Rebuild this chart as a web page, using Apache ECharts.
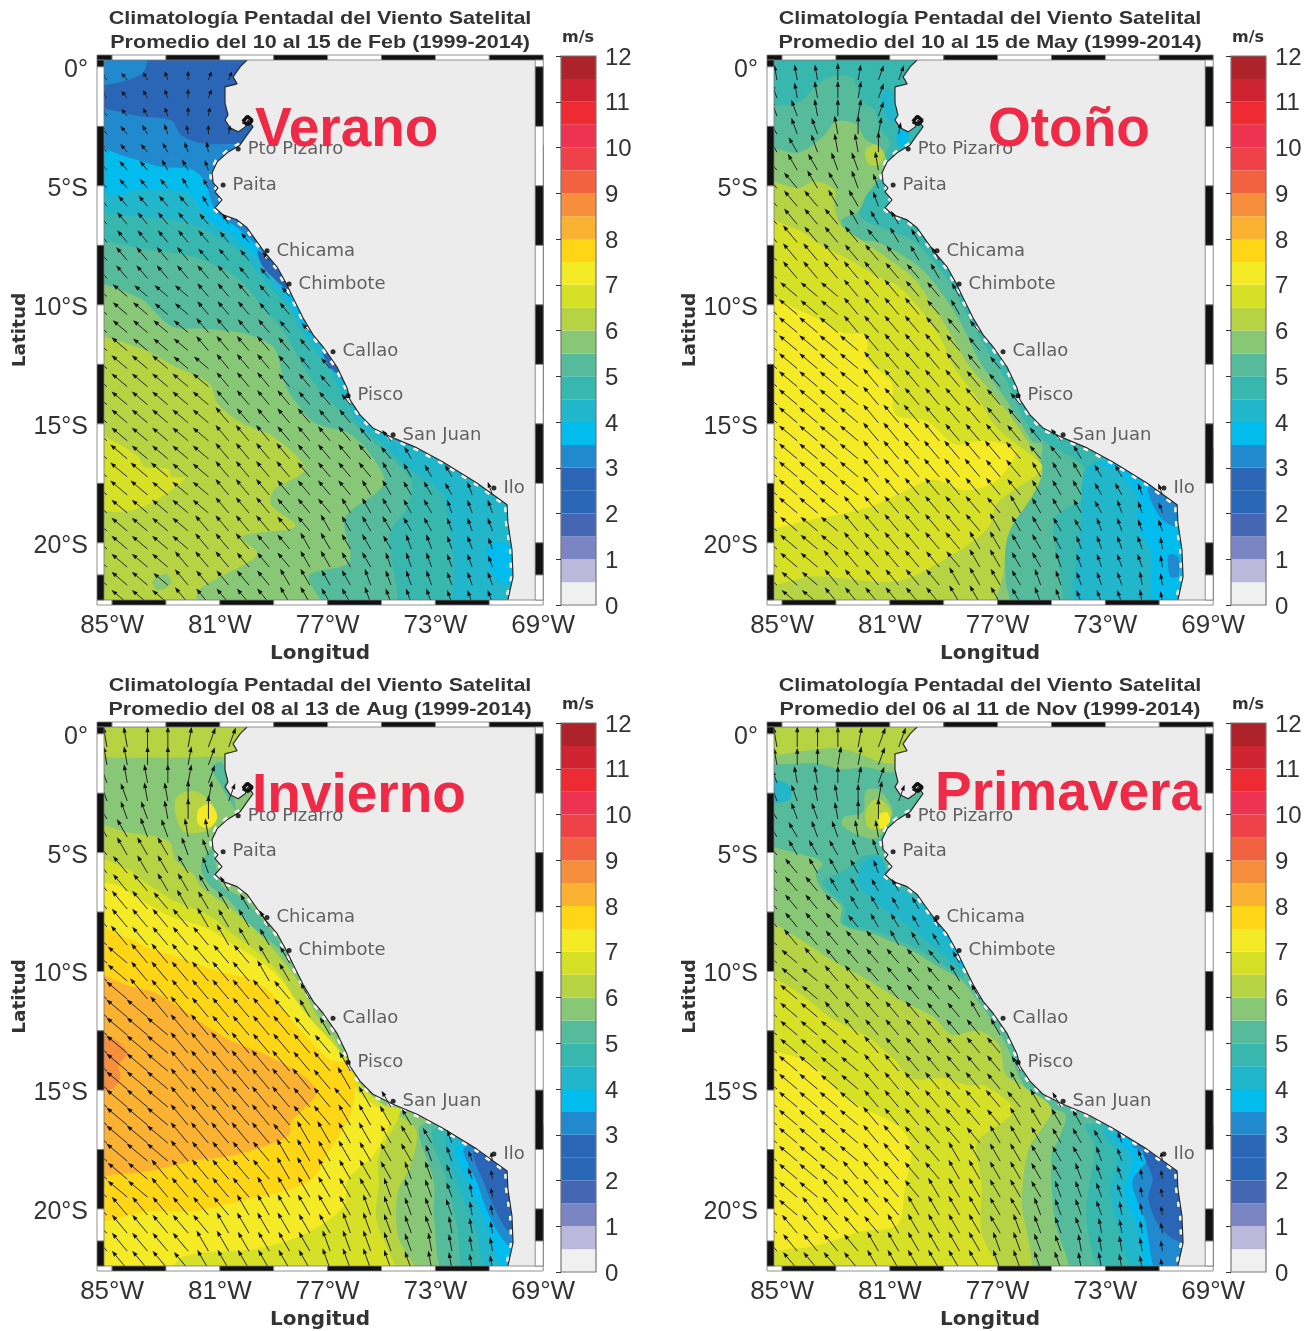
<!DOCTYPE html>
<html><head><meta charset="utf-8">
<style>html,body{margin:0;padding:0;background:#fff}#c{width:1315px;height:1331px}</style>
<script src="https://cdn.jsdelivr.net/npm/echarts@6/dist/echarts.min.js"></script>
</head><body><div id="c"></div>
<script>
// colour scale: one colour per 0.5 m/s band, from 0 to 12
const bandColors=['#f0f0f0','#bcb8dc','#7b85c3','#4566b3','#2a67b7','#2b65b5','#2189cd','#03bcee','#22b6ca','#38b7ae','#56bb9a','#88c776','#b6d344','#d5e027','#f4ea26','#ffd616','#fbb131','#f68e3c','#f26240','#ee4148','#ee3252','#ee2a33','#ce2330','#ad2329'];
const lonTicks=[-85,-81,-77,-73,-69];
const latTicks=[0,-5,-10,-15,-20];
const frameLonEdges=[-85.56,-85,-83,-81,-79,-77,-75,-73,-71,-69];
const frameLatEdges=[0.29,0,-2.5,-5,-7.5,-10,-12.5,-15,-17.5,-20,-21.35,-22.4];
const cities=[['Pto Pizarro',-80.32,-3.45],['Paita',-80.88,-4.96],['Chicama',-79.25,-7.73],['Chimbote',-78.43,-9.12],['Callao',-76.8,-11.97],['Pisco',-76.24,-13.82],['San Juan',-74.57,-15.46],['Ilo',-70.83,-17.69]];
const coast=[[-79.99,0.29],[-80.25,0],[-80.51,-.42],[-80.36,-.71],[-80.81,-.84],[-80.81,-1.51],[-80.7,-2.02],[-80.81,-2.23],[-80.62,-2.56],[-80.32,-2.73],[-80.06,-2.52],[-79.95,-2.23],[-79.77,-2.52],[-79.99,-2.86],[-80.25,-3.28],[-80.73,-3.61],[-81.1,-3.99],[-81.29,-4.45],[-81.25,-4.87],[-81.07,-5.08],[-81.18,-5.25],[-80.92,-5.59],[-81.18,-5.92],[-80.88,-6.22],[-80.36,-6.43],[-79.99,-6.76],[-79.62,-7.35],[-79.32,-7.82],[-78.88,-8.4],[-78.51,-9.16],[-78.28,-9.71],[-77.91,-10.55],[-77.54,-11.26],[-77.17,-11.76],[-76.65,-12.61],[-76.28,-13.49],[-76.17,-13.99],[-75.8,-14.62],[-75.32,-15.17],[-74.57,-15.59],[-73.68,-16.01],[-72.72,-16.6],[-71.46,-17.48],[-70.34,-18.4],[-70.31,-19.16],[-70.16,-20.29],[-70.12,-21.43],[-70.31,-22.39]];
const island=[[-80.15,-2.3],[-79.98,-2.08],[-79.8,-2.25],[-79.95,-2.42],[-80.15,-2.3]];

// wind-arrow tails: rows and columns of the satellite grid
const arrowLat0=-.55,arrowLatStep=.758,arrowLon0=-85.19,arrowLonStep=.753;
// direction code per arrow: degrees west of north = (code-2)*10
const febDir=["6654200","665420","665421","6654321","666543","666554","666655","666665","6666665","66666666","666666666","666666666","7777766666","7777766666","77777666666","77777666666","777777666666","777777666666","7777776666666","7777776666666","777777666666666","7777776666666665","777777666666665555","77777766666665555544","77777766666655555444","77777666666555555444","77777666665555544444","77776666665555444444","77776666655554444444","77776666655554444444"];
const mayDir=["3332100","433210","443210","5443211","554332","655443","665544","666554","6666555","66666655","766666655","766666665","7777666665","7777666665","77776666666","77777666666","777776666666","777776666666","7777766666666","7777766666666","777776666666666","7777766666666665","777776666666655555","77777666666665555544","77776666666655555444","77776666666555554444","77776666665555544443","77766666665555444443","77766666655554444433","77766666655554444433"];
const augDir=["3322100","332210","433210","4433210","544322","554433","655544","665554","6665555","66665555","666665555","766666555","7766666655","7766666655","77666666665","77766666665","777766666665","777766666666","7777666666665","7777666666665","777766666666655","7777666666665555","777766666655555554","77776666655555554443","77766666655555544443","77766666555555444433","76666665555554444433","76666655555544444333","66666555555444443333","66666555555444443333"];
const novDir=["3222100","322110","433210","4433210","544322","554433","655544","665554","6665555","66665555","666665555","766666555","7766666665","7776666665","77766666665","77766666665","777766666665","777776666666","7777766666665","7777766666665","777776666666655","7777766666665555","777776666665555554","77777666655555554443","77776666655555544433","77766666555555444433","77666665555554444333","76666655555544443333","66666555555444433333","66666555555444433333"];

// filled speed bands, painted in this order: [speed band lower bound, outline as lon/lat]
const all=[[-86,1],[-69,1],[-69,-23],[-86,-23]];
const febBands=[[2.5,all],
[3,[[-86,1],[-83.8,1],[-83.9,-.3],[-86,-.7]]],
[3,[[-86,-2],[-83.8,-2.1],[-82.8,-2.25],[-82.4,-2.9],[-81.4,-3.25],[-69,-3.25],[-69,-23],[-86,-23]]],
[3.5,[[-86,-3.5],[-84.4,-3.8],[-83.2,-4.2],[-82.05,-4.3],[-81.55,-4.8],[-81.3,-5.7],[-81.05,-6.2],[-80.3,-6.8],[-79.6,-7.55],[-78.7,-8.9],[-78.35,-9.5],[-77.75,-10.85],[-77,-11.9],[-76.1,-14.45],[-75,-14.5],[-69,-14.5],[-69,-23],[-86,-23]]],
[4,[[-86,-5.3],[-84.8,-5.4],[-84.05,-5.15],[-82.2,-5.3],[-81.35,-6.5],[-80.5,-7.1],[-79.4,-8.3],[-78.45,-9.8],[-77.95,-10.85],[-77.2,-11.9],[-76.45,-13.2],[-75.9,-14.5],[-75.2,-15.2],[-69,-15.2],[-69,-23],[-86,-23]]],
[4.5,[[-86,-6.5],[-83.6,-6.35],[-81.9,-6.65],[-80.3,-7.7],[-79.4,-8.9],[-78.45,-10.1],[-77.95,-11.15],[-77,-12.65],[-76.45,-13.7],[-75.85,-14.95],[-75.1,-15.7],[-73.9,-16.95],[-72.65,-18.15],[-72.9,-23],[-86,-23]]],
[5,[[-86,-7.6],[-83.6,-7.7],[-81.9,-8],[-80.3,-8.9],[-79.4,-10.1],[-78.6,-11.15],[-77.95,-12.5],[-77.2,-13.7],[-76.2,-14.8],[-75.2,-15.85],[-73.9,-17.4],[-74.1,-18.6],[-74.7,-19.65],[-74.7,-23],[-86,-23]]],
[5.5,[[-86,-9.3],[-84,-9.7],[-82.8,-10.9],[-81.6,-11],[-80.1,-11.2],[-79,-11.8],[-78.6,-13.3],[-78.2,-14.05],[-77.5,-14.95],[-76.2,-15.4],[-75.4,-16.3],[-74.9,-17.5],[-76.2,-18.7],[-76.4,-19.1],[-76.2,-20.8],[-77.7,-21.4],[-77.1,-23],[-86,-23]]],
[6,[[-86,-11.5],[-84,-11.8],[-82.65,-12.6],[-81.4,-13.3],[-81.05,-14.2],[-80.2,-14.95],[-79,-15.55],[-77.85,-16.9],[-79,-17.8],[-79.1,-18.4],[-78.2,-19.3],[-80.2,-19.75],[-79.6,-20.5],[-81.8,-22],[-81.95,-23],[-86,-23]]],
[6.5,[[-86,-15.3],[-84.9,-15.75],[-84,-16.4],[-83.8,-16.8],[-82.9,-16.9],[-82.8,-17.2],[-82.3,-17.3],[-83.5,-18.3],[-84.7,-18.7],[-86,-18.3]]],
[5.5,[[-83.5,-21.6],[-83,-21.3],[-82.8,-21.7],[-83.3,-22]]],
[2.5,[[-79.6,-7.7],[-79,-8.3],[-78.6,-9],[-78.2,-9.7],[-78.7,-9.2],[-79.4,-8.4]]],
[2.5,[[-77.2,-11.9],[-76.8,-12.3],[-76.6,-12.9],[-77,-12.5]]],
[3.5,[[-71.15,-20.4],[-70.65,-19.95],[-70,-20.4],[-69.9,-21.6],[-70.65,-21.6]]]];
const mayBands=[[4.5,all],
[5,[[-86,-2],[-84.4,-1.5],[-83.4,-.5],[-82.4,-.45],[-82.05,-1.4],[-81.55,-1.85],[-81.35,-2.6],[-81,-3.2],[-81.3,-3.95],[-81.55,-5],[-82.1,-5.6],[-82.05,-6.35],[-81.2,-6.8],[-80.2,-7.25],[-79.4,-8.15],[-78.7,-9.2],[-78.2,-10.3],[-77.7,-11.3],[-77.2,-12.25],[-76.6,-13.3],[-76.1,-14.65],[-75.35,-15.65],[-73.75,-16.9],[-73.9,-18.15],[-74.9,-19],[-74.9,-23],[-86,-23]]],
[5.5,[[-86,-3.5],[-84.4,-3.6],[-83.5,-2.95],[-83,-2.3],[-82.25,-2.4],[-81.9,-3.05],[-81.35,-3.4],[-81.1,-4.1],[-81.35,-4.55],[-81.9,-5.45],[-82.15,-6.05],[-82.8,-6.45],[-82.5,-7.2],[-81.5,-7.35],[-80.7,-7.8],[-79.8,-8.5],[-78.95,-9.7],[-78.3,-10.9],[-77.7,-12.3],[-76.8,-13.8],[-76.2,-14.85],[-75.7,-15.75],[-75.35,-15.85],[-75.5,-17],[-76.2,-18.6],[-76.7,-20.1],[-76.7,-21.6],[-76.6,-23],[-86,-23]]],
[6,[[-86,-4.85],[-84.4,-5.1],[-83.8,-4.8],[-83.05,-5.15],[-83.05,-5.9],[-82.8,-6.65],[-81.9,-7.4],[-80.95,-8.15],[-80.1,-8.9],[-79.35,-10.1],[-78.7,-11.3],[-78.1,-12.5],[-77.2,-13.7],[-76.35,-14.95],[-75.35,-16.9],[-75.7,-18],[-76.6,-19.6],[-76.85,-21.6],[-77.6,-23],[-86,-23]]],
[6,[[-81.9,-3.5],[-81.55,-3.25],[-81.2,-3.65],[-81.4,-4.1],[-81.8,-4.1]]],
[6.5,[[-86,-6.5],[-84.4,-6.85],[-83.4,-7.6],[-82.65,-8],[-81.55,-8.75],[-80.7,-9.2],[-79.8,-10.3],[-79.1,-11.45],[-78.6,-12.65],[-77.7,-14],[-77,-15.2],[-76,-16.1],[-75.35,-16.85],[-77,-18.3],[-77.35,-19.35],[-78.6,-20.45],[-80.7,-21.6],[-83.8,-21.4],[-86,-21.6]]],
[7,[[-86,-9.8],[-84,-10.4],[-82.8,-11.15],[-81.9,-11.3],[-81.8,-12.35],[-80.95,-13.25],[-80.8,-14.6],[-79.6,-14.9],[-78.6,-15.85],[-77.5,-15.7],[-76.35,-16.1],[-77,-17.36],[-78.2,-17.8],[-79.4,-17.35],[-80.95,-18.1],[-81.9,-18.55],[-83.8,-19],[-86,-19.2]]],
[4,[[-73.75,-16.9],[-73,-16.5],[-69,-16],[-69,-23],[-73.9,-23],[-73.9,-19]]],
[3.5,[[-73.2,-16.6],[-72.5,-17.05],[-71.8,-18.1],[-71.8,-19.3],[-71.3,-20.4],[-71.1,-23],[-69,-23],[-69,-16.6]]],
[3,[[-71.4,-17.65],[-70.35,-18.4],[-70.4,-19.3],[-70.9,-19],[-71.3,-18.25]]],
[3,[[-70.65,-20.5],[-70.3,-20.6],[-70.3,-21.4],[-70.6,-21.4]]],
[4,[[-81.35,-1.1],[-80.95,-.95],[-80.6,-2.4],[-81.1,-2.15]]],
[3.5,[[-80.7,-2.65],[-80.3,-2.8],[-80.45,-3.3],[-80.7,-3.3]]]];
const augBands=[[5.5,all],
[6,[[-86,-.75],[-83.2,-1],[-81.05,-.95],[-80,-1],[-80,1],[-86,1]]],
[5,[[-81.3,-1.4],[-80.9,-1.2],[-80.4,-3.2],[-81,-2.1]]],
[5,[[-81.7,-5.6],[-81.3,-4.85],[-80.95,-6.35],[-80.1,-6.95],[-79.4,-7.85],[-78.7,-8.9],[-78.3,-9.8],[-78.8,-9.05],[-79.8,-8.15],[-80.7,-6.95],[-81.4,-6.35]]],
[6,[[-82.65,-3.35],[-82.6,-2.65],[-81.95,-2.4],[-81.35,-2.85],[-81.1,-3.6],[-81.5,-4.1],[-82.35,-4.1]]],
[7,[[-81.8,-3.2],[-81.35,-2.95],[-81.1,-3.5],[-81.4,-3.95],[-81.8,-3.8]]],
[6,[[-86,-3.9],[-84.4,-4.15],[-82.9,-4.5],[-82.65,-5.3],[-82,-5.9],[-81.65,-6.5],[-80.7,-7.25],[-79.5,-8.45],[-78.7,-9.5],[-78.1,-10.4],[-77.3,-12.05],[-76.7,-12.95],[-76.1,-14.65],[-75.2,-15.6],[-73.75,-16.6],[-73.9,-18.1],[-74.4,-19.3],[-74.4,-21.1],[-73.75,-23],[-86,-23]]],
[6.5,[[-86,-5.3],[-84.4,-5.7],[-83.9,-6.15],[-82.65,-7.05],[-81.4,-7.65],[-80.55,-8.4],[-79.65,-9.15],[-78.85,-10],[-78.2,-11.15],[-77.5,-12.2],[-76.85,-12.95],[-76.2,-13.8],[-75.85,-14.65],[-74.95,-15.6],[-74.3,-15.85],[-75.1,-17.8],[-75.1,-18.9],[-75.2,-20.4],[-74.6,-23],[-86,-23]]],
[7,[[-86,-6.5],[-84.9,-6.35],[-84,-6.95],[-82.8,-7.7],[-81.55,-8.15],[-80.45,-8.9],[-79.4,-9.65],[-78.7,-10.4],[-78.2,-11.2],[-77.6,-12.05],[-76.95,-12.85],[-76.45,-13.6],[-75.85,-15.1],[-75,-15.85],[-74.7,-16.3],[-75.3,-17.75],[-76.25,-18.75],[-76.4,-19.9],[-77.75,-21],[-79.5,-21.65],[-82.35,-22],[-83.2,-23],[-86,-23]]],
[7.5,[[-86,-8.15],[-84.4,-8.6],[-83.55,-9.05],[-82.3,-9.5],[-81.05,-10],[-79.95,-10.3],[-79.1,-10.9],[-78.35,-12.05],[-77.6,-12.95],[-76.95,-13.7],[-76.3,-13.9],[-76,-14.65],[-76,-15.2],[-76.15,-16],[-76.95,-17.6],[-77.7,-18.85],[-79.95,-19.6],[-82,-20.1],[-83.6,-20.1],[-86,-20.3]]],
[8,[[-86,-10.1],[-84.4,-10.6],[-83.4,-10.9],[-82.15,-11.8],[-80.7,-12.85],[-79.4,-13.45],[-77.95,-14.35],[-77.4,-15.1],[-77.95,-15.85],[-78.35,-16.3],[-78.45,-16.9],[-79.7,-17.5],[-80.8,-17.8],[-81.9,-17.95],[-83.6,-18.4],[-84.9,-18.55],[-86,-18.6]]],
[8.5,[[-86,-12.7],[-84.9,-12.85],[-84.45,-13.45],[-84.75,-13.95],[-84.7,-14.5],[-85,-14.95],[-86,-14.95]]],
[5,[[-73.5,-16.45],[-73.05,-18.9],[-73.05,-20.4],[-72.55,-23],[-69,-23],[-69,-16.45]]],
[4.5,[[-73.05,-16.6],[-72.55,-18.9],[-72.2,-20.7],[-71.8,-23],[-69,-23],[-69,-16.6]]],
[4,[[-72.55,-16.9],[-72.2,-18.9],[-71.55,-20.7],[-70.95,-23],[-69,-23],[-69,-16.9]]],
[3.5,[[-72.2,-17.35],[-71.8,-18.9],[-71.2,-20.4],[-70.3,-23],[-69,-23],[-69,-17.35]]],
[3,[[-71.9,-17.4],[-71.45,-18.9],[-70.95,-20.4],[-70.2,-21.6],[-69,-21.6],[-69,-17.4]]],
[2.5,[[-71.55,-17.5],[-71.2,-18.9],[-70.7,-20.2],[-70.2,-21],[-69,-21],[-69,-17.5]]]];
const novBands=[[5,all],
[5.5,[[-86,-1.1],[-83.7,-1.25],[-82.8,-1.5],[-81.9,-1.4],[-81.05,-1.6],[-80,-1.5],[-80,1],[-86,1]]],
[6,[[-86,-.8],[-82.9,-.6],[-81.05,-1.25],[-80,-1],[-80,1],[-86,1]]],
[4,[[-86,-1.9],[-84.8,-2.1],[-84.7,-2.75],[-86,-2.9]]],
[5.5,[[-82,-3.3],[-81.9,-2.4],[-81.4,-2.35],[-80.9,-3.2],[-81.05,-3.8],[-81.5,-4.4],[-82.2,-4.25],[-82.8,-3.8],[-82.7,-3.5]]],
[6,[[-81.9,-3.3],[-81.65,-2.8],[-81.3,-2.8],[-80.95,-3.3],[-81.2,-3.95],[-81.8,-3.95]]],
[7,[[-81.4,-3.4],[-81.1,-3.3],[-81,-3.7],[-81.35,-4]]],
[4.5,[[-83.5,-6.25],[-82.65,-7.3],[-82.7,-8],[-81.5,-8.3],[-80,-9.05],[-79.1,-9.65],[-78.25,-10.25],[-78.25,-8.3],[-80,-6.5],[-80.95,-6.05],[-81.35,-5.15],[-82,-5.15],[-82.7,-5.75]]],
[4,[[-82.1,-5.6],[-82.15,-6.35],[-81,-7.55],[-80.2,-8.15],[-79.3,-9.05],[-78.3,-9.85],[-78.55,-8.6],[-79.65,-7.25],[-81,-6.2],[-81.35,-5.15],[-81.85,-5.3]]],
[3.5,[[-79.55,-7.7],[-78.8,-8.8],[-78.3,-9.85],[-77.9,-9.5],[-79,-7.5]]],
[5.5,[[-86,-5],[-84,-5.15],[-83.5,-5.45],[-83.75,-5.9],[-83.45,-6.65],[-82.8,-7.25],[-82.8,-8],[-81.55,-8.45],[-80.05,-9.2],[-79.2,-9.8],[-78.35,-10.35],[-77.7,-11.3],[-77.1,-12.25],[-76.6,-13.3],[-76.1,-14.65],[-75.35,-15.65],[-74.5,-16],[-74.7,-17],[-75,-17.7],[-74.9,-20.4],[-74.5,-23],[-86,-23]]],
[6,[[-86,-7.85],[-84.4,-8.6],[-83.2,-9.5],[-81.9,-10.3],[-80.7,-11.15],[-79.4,-11.9],[-78.7,-12.65],[-77.7,-12.5],[-76.95,-13.1],[-76.7,-14.35],[-76.1,-14.8],[-75,-15.8],[-75.85,-17.5],[-76.1,-19.6],[-76,-23],[-86,-23]]],
[6.5,[[-86,-10.1],[-84.4,-10.9],[-83.2,-11.95],[-81.9,-12.7],[-80.8,-13.75],[-80.2,-14.5],[-78.95,-14.5],[-78.1,-14.8],[-77.5,-14.8],[-76.4,-15.85],[-77.75,-17.2],[-77.6,-18.85],[-77.6,-21],[-77,-23],[-86,-23]]],
[7,[[-86,-13.45],[-84.5,-13.6],[-83.55,-14.2],[-83,-14.95],[-82.05,-15.7],[-80.6,-16.6],[-80.2,-17.5],[-80.45,-19.15],[-80.7,-20.65],[-82.05,-20.95],[-83.75,-21.55],[-84.85,-21.7],[-86,-21.7]]],
[4.5,[[-73.7,-16.45],[-73.4,-17.35],[-73.7,-20.4],[-72.9,-23],[-69,-23],[-69,-16.45]]],
[4,[[-73.05,-16.6],[-72.55,-17.8],[-72.8,-19.15],[-72.55,-20.7],[-71.7,-23],[-69,-23],[-69,-16.6]]],
[3.5,[[-72.65,-16.9],[-72,-17.8],[-72.3,-19.3],[-71.8,-20.8],[-71.3,-23],[-69,-23],[-69,-16.9]]],
[3,[[-72,-17.35],[-71.4,-17.8],[-72,-18.85],[-71.55,-20.4],[-70.95,-23],[-69,-23],[-69,-17.35]]],
[2.5,[[-71.55,-17.5],[-71.25,-18.7],[-71.4,-19.6],[-70.95,-20.8],[-70.2,-21.4],[-69,-21.4],[-69,-17.5]]]];

const panelTitles=['Climatología Pentadal del Viento Satelital\nPromedio del 10 al 15 de Feb (1999-2014)','Climatología Pentadal del Viento Satelital\nPromedio del 10 al 15 de May (1999-2014)','Climatología Pentadal del Viento Satelital\nPromedio del 08 al 13 de Aug (1999-2014)','Climatología Pentadal del Viento Satelital\nPromedio del 06 al 11 de Nov (1999-2014)'];
const seasons=[['Verano',255,131],['Otoño',988,131],['Invierno',252,797],['Primavera',935,795]];
const panelBands=[febBands,mayBands,augBands,novBands];
const panelDirs=[febDir,mayDir,augDir,novDir];
const panelOffsets=[[0,0],[670,0],[0,667],[670,667]];

const FONT='"Liberation Sans",Arial,sans-serif', WIDE='"DejaVu Sans",sans-serif', TXT='#333';
function inPoly(p,poly){let c=false;for(let i=0,j=poly.length-1;i<poly.length;j=i++){const a=poly[i],b=poly[j];
  if((a[1]>p[1])!==(b[1]>p[1])&&p[0]<(b[0]-a[0])*(p[1]-a[1])/(b[1]-a[1])+a[0])c=!c;}return c;}
function speedAt(bands,p){let v=0;bands.forEach(b=>{if(inPoly(p,b[1]))v=b[0]+.25;});return v;}
function colorOf(v){return bandColors[Math.round(v/.5)];}

const grid=[],xAxis=[],yAxis=[],series=[],graphic=[];
panelOffsets.forEach((off,i)=>{
  const dx=off[0],dy=off[1],g=grid.length,bands=panelBands[i];
  grid.push({left:104+dx,top:60+dy,width:439.2,height:540});
  xAxis.push({gridIndex:g,type:'value',min:-85.3,max:-69,splitLine:{show:false},axisLine:{show:false},axisTick:{show:false},
    axisLabel:{customValues:lonTicks,formatter:v=>(-v)+'°W',fontSize:26,color:TXT,fontFamily:FONT,margin:13,hideOverlap:false,showMinLabel:true,showMaxLabel:true},
    name:'Longitud',nameLocation:'middle',nameGap:44,nameTextStyle:{fontSize:20,fontWeight:'bold',color:TXT,fontFamily:WIDE,padding:[0,7,0,0]}});
  yAxis.push({gridIndex:g,type:'value',min:-22.4,max:.29,splitLine:{show:false},axisLine:{show:false},axisTick:{show:false},
    axisLabel:{customValues:latTicks,formatter:v=>'{a|'+(v===0?'0°':(-v)+'°S')+'}',rich:{a:{fontSize:25,color:TXT,fontFamily:FONT,padding:[6,0,0,0]}},margin:16},
    name:'Latitud',nameLocation:'middle',nameGap:66,nameTextStyle:{fontSize:18.5,fontWeight:'bold',color:TXT,fontFamily:WIDE}});
  // filled contour bands
  series.push({type:'custom',xAxisIndex:g,yAxisIndex:g,z:1,clip:true,silent:true,data:bands.map(b=>[b[0]]),
    renderItem:(p,api)=>{const b=bands[p.dataIndex];return {type:'polygon',shape:{points:b[1].map(c=>api.coord(c)),smooth:b[1]===all?0:.3},style:{fill:colorOf(b[0])}};}});
  // white fringe where the data stop short of the coast
  series.push({type:'line',xAxisIndex:g,yAxisIndex:g,z:2,data:coast.slice(14),showSymbol:false,silent:true,lineStyle:{color:'#fff',width:6,type:[5,9]}});
  // land
  series.push({type:'custom',xAxisIndex:g,yAxisIndex:g,z:3,clip:true,silent:true,data:[[0]],
    renderItem:(p,api)=>({type:'polygon',shape:{points:[[-79.9,1]].concat(coast,[[-70.31,-23],[-69,-23],[-69,1]]).map(c=>api.coord(c))},style:{fill:'#ececec'}})});
  // coast
  series.push({type:'line',xAxisIndex:g,yAxisIndex:g,z:4,data:coast,showSymbol:false,silent:true,lineStyle:{color:'#2a2a2a',width:1.2}});
  series.push({type:'line',xAxisIndex:g,yAxisIndex:g,z:4,data:island,showSymbol:false,silent:true,lineStyle:{color:'#111',width:3.5}});
  // wind arrows
  const arrows=[];
  panelDirs[i].forEach((row,r)=>{[...row].forEach((ch,k)=>{
    const lon=arrowLon0+k*arrowLonStep,lat=arrowLat0-r*arrowLatStep;
    arrows.push([lon,lat,speedAt(bands,[lon,lat]),(+ch-2)*10]);});});
  series.push({type:'custom',xAxisIndex:g,yAxisIndex:g,z:5,clip:true,silent:true,data:arrows,
    renderItem:(p,api)=>{const t=api.coord([api.value(0),api.value(1)]),L=api.value(2)*3.3,a=api.value(3)*Math.PI/180;
      const ux=-Math.sin(a),uy=-Math.cos(a),hx=t[0]+ux*L,hy=t[1]+uy*L,hl=Math.min(6,L*.5),bx=hx-ux*hl,by=hy-uy*hl;
      return {type:'group',children:[
        {type:'line',shape:{x1:t[0],y1:t[1],x2:bx,y2:by},style:{stroke:'#222',lineWidth:1}},
        {type:'polygon',shape:{points:[[hx,hy],[bx-uy*2.1,by+ux*2.1],[bx+uy*2.1,by-ux*2.1]]},style:{fill:'#111'}}]};}});
  // cities
  series.push({type:'scatter',xAxisIndex:g,yAxisIndex:g,z:6,symbolSize:5,silent:true,itemStyle:{color:'#000'},data:cities.map(c=>({name:c[0],value:[c[1],c[2]]})),
    label:{show:true,position:'right',distance:7,padding:[8,0,0,0],formatter:'{b}',fontSize:18,color:'#3d3d3d',fontFamily:WIDE}});
  // fancy frame
  const seg=[];
  for(let k=0;k<frameLonEdges.length-1;k++){const black=(k%2===0);seg.push(['top',frameLonEdges[k],frameLonEdges[k+1],black?1:0]);seg.push(['bottom',frameLonEdges[k],frameLonEdges[k+1],(k===0?0:(k%2===1?1:0))]);}
  for(let k=0;k<frameLatEdges.length-1;k++){const black=(k%2===0);seg.push(['left',frameLatEdges[k],frameLatEdges[k+1],black?1:0]);seg.push(['right',frameLatEdges[k],frameLatEdges[k+1],black?0:1]);}
  series.push({type:'custom',xAxisIndex:g,yAxisIndex:g,z:7,clip:false,silent:true,data:seg.map((s,n)=>[n]),
    renderItem:(p,api)=>{const s=seg[p.dataIndex];let x,y,w,h;
      if(s[0]==='top'||s[0]==='bottom'){const a=api.coord([s[1],0])[0],b=api.coord([s[2],0])[0],t0=api.coord([-85,.29])[1],t1=api.coord([-85,-22.4])[1];x=a;w=b-a;y=s[0]==='top'?t0-5:t1;h=5;}
      else{const a=api.coord([-85,s[1]])[1],b=api.coord([-85,s[2]])[1],l=api.coord([-85.3,0])[0],r=api.coord([-69,0])[0];y=a;h=b-a;x=s[0]==='left'?l-7:r-8;w=s[0]==='left'?7:8;}
      return {type:'rect',shape:{x,y,width:w,height:h},style:{fill:s[3]?'#111':'#fff',stroke:'#777',lineWidth:.8}};}});
  // colour bar
  const cg=grid.length;
  grid.push({left:561+dx,top:56+dy,width:35,height:549,show:false});
  xAxis.push({gridIndex:cg,type:'value',min:0,max:1,show:false});
  yAxis.push({gridIndex:cg,type:'value',min:0,max:12,interval:1,position:'right',z:5,splitLine:{show:false},axisLine:{show:false},
    axisTick:{inside:true,length:5,lineStyle:{color:'#333'}},axisLabel:{formatter:v=>'{a|'+v+'}',rich:{a:{fontSize:24,color:TXT,fontFamily:FONT,padding:[4,0,0,0]}},margin:9,showMinLabel:true,showMaxLabel:true}});
  series.push({type:'custom',xAxisIndex:cg,yAxisIndex:cg,z:1,clip:false,silent:true,data:bandColors.map((c,n)=>[n]),
    renderItem:(p,api)=>{const a=api.coord([0,p.dataIndex*.5]),b=api.coord([1,(p.dataIndex+1)*.5]);
      return {type:'rect',shape:{x:a[0],y:b[1],width:b[0]-a[0],height:a[1]-b[1]},style:{fill:bandColors[p.dataIndex]}};}});
  series.push({type:'custom',xAxisIndex:cg,yAxisIndex:cg,z:2,clip:false,silent:true,data:[[0]],
    renderItem:(p,api)=>{const a=api.coord([0,0]),b=api.coord([1,12]);
      return {type:'rect',shape:{x:a[0],y:b[1],width:b[0]-a[0],height:a[1]-b[1]},style:{fill:'none',stroke:'#777',lineWidth:1.2}};}});
  graphic.push({type:'text',z:100,x:320+dx,y:31+dy,scaleX:1.166,style:{text:panelTitles[i],align:'center',verticalAlign:'middle',fontSize:18.5,fontWeight:'bold',fontFamily:FONT,fill:TXT,lineHeight:24}});
  graphic.push({type:'text',z:100,x:578+dx,y:38+dy,style:{text:'m/s',align:'center',verticalAlign:'middle',fontSize:16,fontWeight:'bold',fontFamily:WIDE,fill:TXT}});
  graphic.push({type:'text',z:100,x:seasons[i][1],y:seasons[i][2],style:{text:seasons[i][0],fontSize:55,fontWeight:'bold',fontFamily:FONT,fill:'#ee2a47',verticalAlign:'middle',align:'left'}});
});
const chart=echarts.init(document.getElementById('c'),null,{renderer:'canvas'});
chart.setOption({animation:false,backgroundColor:'#fff',grid,xAxis,yAxis,series,graphic});
</script></body></html>
